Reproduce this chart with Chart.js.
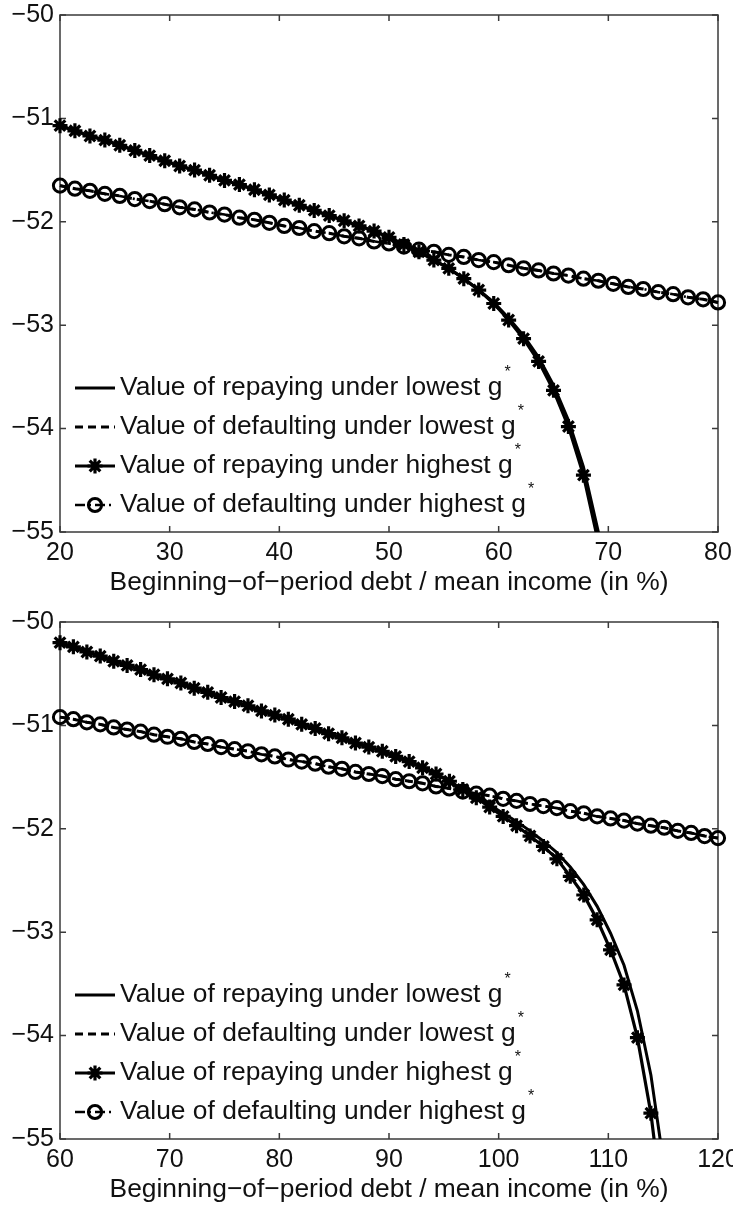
<!DOCTYPE html>
<html>
<head>
<meta charset="utf-8">
<script src="https://cdn.jsdelivr.net/npm/chart.js@4.4.1/dist/chart.umd.min.js"></script>
<style>
  html, body { margin: 0; padding: 0; background: #fff; }
  body { width: 733px; height: 1207px; position: relative; overflow: hidden; }
  .panel { position: absolute; left: 0; width: 733px; height: 600px; }
  #panelTop { top: 0; }
  #panelBottom { top: 607px; }
</style>
</head>
<body>
<div class="panel" id="panelTop"><canvas id="chartTop" width="733" height="600"></canvas></div>
<div class="panel" id="panelBottom"><canvas id="chartBottom" width="733" height="600"></canvas></div>
<script>
// ---- Legend labels and axis text ----
const seriesLabels = [
  'Value of repaying under lowest g',
  'Value of defaulting under lowest g',
  'Value of repaying under highest g',
  'Value of defaulting under highest g'
];
const xAxisTitle = 'Beginning\u2212of\u2212period debt / mean income (in %)';

// ---- Upper panel: debt grid (%) and values ----
const debtTop = [20, 21.36, 22.73, 24.09, 25.45, 26.82, 28.18, 29.55, 30.91, 32.27,
  33.64, 35, 36.36, 37.73, 39.09, 40.45, 41.82, 43.18, 44.55, 45.91,
  47.27, 48.64, 50, 51.36, 52.73, 54.09, 55.45, 56.82, 58.18, 59.55,
  60.91, 62.27, 63.64, 65, 66.36, 67.73, 69.09, 70.45, 71.82, 73.18,
  74.55, 75.91, 77.27, 78.64, 80];
const repayLowTop = [-51.07, -51.12, -51.17, -51.21, -51.26, -51.31, -51.36, -51.41, -51.46, -51.50,
  -51.55, -51.60, -51.64, -51.69, -51.74, -51.79, -51.84, -51.89, -51.94, -51.99,
  -52.04, -52.09, -52.15, -52.22, -52.29, -52.37, -52.45, -52.55, -52.66, -52.78,
  -52.93, -53.10, -53.31, -53.58, -53.92, -54.37, -55.00, -55.75];
const defaultLowTop = [-51.65, -51.68, -51.70, -51.73, -51.75, -51.78, -51.80, -51.83, -51.86, -51.88,
  -51.91, -51.93, -51.96, -51.98, -52.01, -52.04, -52.06, -52.09, -52.11, -52.14,
  -52.16, -52.19, -52.21, -52.24, -52.27, -52.29, -52.32, -52.34, -52.37, -52.39,
  -52.42, -52.45, -52.47, -52.50, -52.52, -52.55, -52.57, -52.60, -52.63, -52.65,
  -52.68, -52.70, -52.73, -52.75, -52.78];
const repayHighTop = [-51.07, -51.12, -51.17, -51.21, -51.26, -51.31, -51.36, -51.41, -51.46, -51.50,
  -51.55, -51.60, -51.64, -51.69, -51.74, -51.79, -51.84, -51.89, -51.94, -51.99,
  -52.04, -52.09, -52.15, -52.22, -52.29, -52.37, -52.45, -52.55, -52.66, -52.79,
  -52.95, -53.13, -53.35, -53.63, -53.98, -54.45, -55.10];
const defaultHighTop = [-51.65, -51.68, -51.70, -51.73, -51.75, -51.78, -51.80, -51.83, -51.86, -51.88,
  -51.91, -51.93, -51.96, -51.98, -52.01, -52.04, -52.06, -52.09, -52.11, -52.14,
  -52.16, -52.19, -52.21, -52.24, -52.27, -52.29, -52.32, -52.34, -52.37, -52.39,
  -52.42, -52.45, -52.47, -52.50, -52.52, -52.55, -52.57, -52.60, -52.63, -52.65,
  -52.68, -52.70, -52.73, -52.75, -52.78];

// ---- Lower panel: debt grid (%) and values ----
const debtBottom = [60, 61.22, 62.45, 63.67, 64.9, 66.12, 67.35, 68.57, 69.8, 71.02,
  72.24, 73.47, 74.69, 75.92, 77.14, 78.37, 79.59, 80.82, 82.04, 83.27,
  84.49, 85.71, 86.94, 88.16, 89.39, 90.61, 91.84, 93.06, 94.29, 95.51,
  96.73, 97.96, 99.18, 100.41, 101.63, 102.86, 104.08, 105.31, 106.53, 107.76,
  108.98, 110.2, 111.43, 112.65, 113.88, 115.1, 116.33, 117.55, 118.78, 120];
const repayLowBottom = [-50.20, -50.24, -50.29, -50.33, -50.38, -50.42, -50.46, -50.51, -50.55, -50.59,
  -50.64, -50.68, -50.73, -50.77, -50.81, -50.86, -50.90, -50.94, -50.99, -51.03,
  -51.08, -51.12, -51.17, -51.21, -51.25, -51.30, -51.35, -51.41, -51.47, -51.54,
  -51.62, -51.69, -51.77, -51.85, -51.93, -52.02, -52.12, -52.23, -52.37, -52.54,
  -52.75, -53.01, -53.32, -53.76, -54.38, -55.28];
const defaultLowBottom = [-50.92, -50.94, -50.97, -50.99, -51.02, -51.04, -51.06, -51.09, -51.11, -51.13,
  -51.16, -51.18, -51.21, -51.23, -51.25, -51.28, -51.30, -51.33, -51.35, -51.37,
  -51.40, -51.42, -51.45, -51.47, -51.49, -51.52, -51.54, -51.56, -51.59, -51.61,
  -51.64, -51.66, -51.68, -51.71, -51.73, -51.76, -51.78, -51.80, -51.83, -51.85,
  -51.88, -51.90, -51.92, -51.95, -51.97, -51.99, -52.02, -52.04, -52.07, -52.09];
const repayHighBottom = [-50.20, -50.24, -50.29, -50.33, -50.38, -50.42, -50.46, -50.51, -50.55, -50.59,
  -50.64, -50.68, -50.73, -50.77, -50.81, -50.86, -50.90, -50.94, -50.99, -51.03,
  -51.08, -51.12, -51.17, -51.21, -51.25, -51.30, -51.35, -51.41, -51.47, -51.54,
  -51.62, -51.70, -51.79, -51.88, -51.97, -52.07, -52.17, -52.29, -52.46, -52.64,
  -52.88, -53.17, -53.51, -54.02, -54.75, -55.80];
const defaultHighBottom = [-50.92, -50.94, -50.97, -50.99, -51.02, -51.04, -51.06, -51.09, -51.11, -51.13,
  -51.16, -51.18, -51.21, -51.23, -51.25, -51.28, -51.30, -51.33, -51.35, -51.37,
  -51.40, -51.42, -51.45, -51.47, -51.49, -51.52, -51.54, -51.56, -51.59, -51.61,
  -51.64, -51.66, -51.68, -51.71, -51.73, -51.76, -51.78, -51.80, -51.83, -51.85,
  -51.88, -51.90, -51.92, -51.95, -51.97, -51.99, -52.02, -52.04, -52.07, -52.09];

// ---- Axis ranges and tick steps ----
const yRange = [-55, -50];
const xRangeTop = [20, 80];
const xRangeBottom = [60, 120];
const xStep = 10;
const yStep = 1;

// ---- Styling ----
const FONT = '"Liberation Sans", Arial, Helvetica, sans-serif';
const TEXT = '#111';
const AXIS = '#3a3a3a';
const clipBox = { left: 10, right: 10, top: 0, bottom: 0 };

function toPoints(xs, ys) {
  return ys.map((v, i) => ({ x: xs[i], y: v }));
}

// Box frame plus inward tick marks on all four sides
const framePlugin = {
  id: 'frame',
  beforeDatasetsDraw(chart) {
    const { ctx, chartArea: a, scales: { x, y } } = chart;
    ctx.save();
    ctx.strokeStyle = AXIS;
    ctx.lineWidth = 1.5;
    ctx.strokeRect(a.left, a.top, a.right - a.left, a.bottom - a.top);
    ctx.beginPath();
    const len = 6;
    x.ticks.forEach(t => {
      const px = x.getPixelForValue(t.value);
      ctx.moveTo(px, a.bottom); ctx.lineTo(px, a.bottom - len);
      ctx.moveTo(px, a.top); ctx.lineTo(px, a.top + len);
    });
    y.ticks.forEach(t => {
      const py = y.getPixelForValue(t.value);
      ctx.moveTo(a.left, py); ctx.lineTo(a.left + len, py);
      ctx.moveTo(a.right, py); ctx.lineTo(a.right - len, py);
    });
    ctx.stroke();
    ctx.restore();
  }
};

// In-plot legend (lower left) and x-axis title
const legendPlugin = {
  id: 'insideLegend',
  afterDatasetsDraw(chart) {
    const { ctx, chartArea: a } = chart;
    const datasets = chart.data.datasets;
    ctx.save();
    const rowGap = 39;
    const lastRow = a.bottom - 27;
    seriesLabels.forEach((label, i) => {
      const ds = datasets[i];
      const yy = lastRow - (seriesLabels.length - 1 - i) * rowGap;
      const x0 = a.left + 15, x1 = a.left + 55, xm = a.left + 35;
      ctx.strokeStyle = '#000';
      ctx.lineWidth = ds.borderWidth;
      ctx.setLineDash(ds.borderDash || []);
      ctx.beginPath();
      ctx.moveTo(x0, yy); ctx.lineTo(x1, yy);
      ctx.stroke();
      ctx.setLineDash([]);
      if (ds.pointRadius > 0) {
        ctx.lineWidth = ds.pointBorderWidth;
        ctx.fillStyle = 'rgba(0,0,0,0)';
        Chart.helpers.drawPoint(ctx, {
          pointStyle: ds.pointStyle, radius: ds.pointRadius, rotation: 0,
          borderWidth: ds.pointBorderWidth
        }, xm, yy);
      }
      ctx.fillStyle = TEXT;
      ctx.font = '26.4px ' + FONT;
      ctx.textAlign = 'left';
      ctx.textBaseline = 'middle';
      const tx = a.left + 60;
      ctx.fillText(label, tx, yy);
      const w = ctx.measureText(label).width;
      ctx.font = '16px ' + FONT;
      ctx.fillText('*', tx + w + 2, yy - 15);
    });
    ctx.restore();
  },
  afterDraw(chart) {
    const { ctx, chartArea: a } = chart;
    ctx.save();
    ctx.fillStyle = TEXT;
    ctx.font = '26.4px ' + FONT;
    ctx.textAlign = 'center';
    ctx.textBaseline = 'middle';
    ctx.fillText(xAxisTitle, (a.left + a.right) / 2, a.bottom + 51);
    ctx.restore();
  }
};

function buildChart(canvasId, xs, repayLow, defaultLow, repayHigh, defaultHigh, xRange) {
  return new Chart(document.getElementById(canvasId), {
    type: 'line',
    data: {
      datasets: [
        {
          label: seriesLabels[0], data: toPoints(xs, repayLow),
          borderColor: '#000', borderWidth: 3, pointRadius: 0,
          order: 3, clip: clipBox
        },
        {
          label: seriesLabels[1], data: toPoints(xs, defaultLow),
          borderColor: '#000', borderWidth: 3, borderDash: [8, 5], pointRadius: 0,
          order: 2, clip: clipBox
        },
        {
          label: seriesLabels[2], data: toPoints(xs, repayHigh),
          borderColor: '#000', borderWidth: 3.2,
          pointStyle: 'star', pointRadius: 7.5, pointBorderWidth: 3.2,
          pointBorderColor: '#000', pointBackgroundColor: '#000',
          order: 1, clip: clipBox
        },
        {
          label: seriesLabels[3], data: toPoints(xs, defaultHigh),
          borderColor: '#000', borderWidth: 2.6, borderDash: [10, 4, 2, 4],
          pointStyle: 'circle', pointRadius: 6.6, pointBorderWidth: 3,
          pointBorderColor: '#000', pointBackgroundColor: 'rgba(0,0,0,0)',
          order: 0, clip: clipBox
        }
      ]
    },
    options: {
      responsive: false,
      animation: false,
      events: [],
      layout: { padding: { top: 15, right: 15, left: 0, bottom: 0 } },
      plugins: { legend: { display: false }, tooltip: { enabled: false } },
      scales: {
        x: {
          type: 'linear', min: xRange[0], max: xRange[1],
          grid: { display: false, drawTicks: false },
          border: { display: false },
          ticks: {
            stepSize: xStep, autoSkip: false, maxRotation: 0,
            padding: 6, color: TEXT, font: { size: 25, family: FONT }
          },
          afterFit(s) { s.height = 68; s.paddingLeft = 0; s.paddingRight = 0; }
        },
        y: {
          type: 'linear', min: yRange[0], max: yRange[1],
          grid: { display: false, drawTicks: false },
          border: { display: false },
          ticks: {
            stepSize: yStep, autoSkip: false, padding: 6,
            color: TEXT, font: { size: 25, family: FONT },
            callback: v => '\u2212' + Math.abs(v)
          },
          afterFit(s) { s.width = 60; s.paddingTop = 0; s.paddingBottom = 0; }
        }
      }
    },
    plugins: [framePlugin, legendPlugin]
  });
}

buildChart('chartTop', debtTop, repayLowTop, defaultLowTop, repayHighTop, defaultHighTop, xRangeTop);
buildChart('chartBottom', debtBottom, repayLowBottom, defaultLowBottom, repayHighBottom, defaultHighBottom, xRangeBottom);
</script>
</body>
</html>
